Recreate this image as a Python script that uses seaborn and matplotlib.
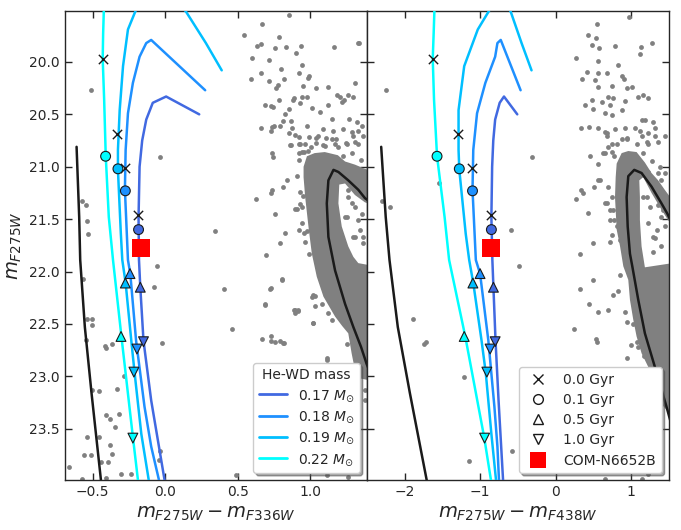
import numpy as np
import pandas as pd
import seaborn as sns
import matplotlib.pyplot as plt
from matplotlib.lines import Line2D
from matplotlib.ticker import MultipleLocator

# ---- He-WD tracks: magnitude, colour F275W-F336W, colour F275W-F438W
masses = ['0.17', '0.18', '0.19', '0.22']
track_colors = ['royalblue', 'dodgerblue', 'deepskyblue', 'aqua']

t017_mag = [20.50, 20.33, 20.39, 20.55, 20.75, 21.00, 21.48, 21.89, 22.15, 22.66, 23.23, 23.98, 24.10]
t017_c336 = [0.235, 0.007, -0.085, -0.13, -0.158, -0.176, -0.183, -0.18, -0.171, -0.149, -0.096, -0.005, 0.01]
t017_c438 = [-0.507, -0.683, -0.74, -0.80, -0.825, -0.84, -0.85, -0.837, -0.823, -0.795, -0.755, -0.696, -0.69]

t018_mag = [20.27, 19.79, 19.82, 19.95, 20.20, 20.49, 20.84, 21.22, 21.89, 22.02, 22.66, 23.29, 23.67, 23.98, 24.10]
t018_c336 = [0.276, -0.096, -0.13, -0.176, -0.222, -0.256, -0.272, -0.277, -0.256, -0.24, -0.2, -0.142, -0.096, -0.044, -0.03]
t018_c438 = [-0.463, -0.726, -0.77, -0.80, -0.93, -1.04, -1.09, -1.10, -1.056, -1.0, -0.89, -0.81, -0.77, -0.75, -0.745]

t019_mag = [20.08, 19.82, 19.52, 19.30, 19.50, 19.69, 20.04, 20.46, 20.84, 21.03, 21.64, 21.89, 22.11, 22.66, 22.97, 23.55, 23.98, 24.10]
t019_c336 = [0.39, 0.281, 0.144, 0.0, -0.2, -0.256, -0.29, -0.313, -0.325, -0.325, -0.305, -0.295, -0.272, -0.233, -0.21, -0.164, -0.114, -0.10]
t019_c438 = [-0.318, -0.45, -0.594, -0.75, -0.871, -1.03, -1.21, -1.285, -1.285, -1.275, -1.19, -1.144, -1.09, -0.98, -0.924, -0.85, -0.79, -0.78]

t022_mag = [19.40, 19.73, 19.97, 20.36, 20.90, 21.48, 21.89, 22.62, 23.58, 23.98, 24.10]
t022_c336 = [-0.42, -0.427, -0.43, -0.42, -0.409, -0.388, -0.359, -0.301, -0.222, -0.188, -0.18]
t022_c438 = [-1.60, -1.615, -1.627, -1.61, -1.57, -1.47, -1.41, -1.196, -0.946, -0.858, -0.84]

# ---- cooling ages along the tracks (order: 0.17, 0.18, 0.19, 0.22)
age_labels = ['0.0 Gyr', '0.1 Gyr', '0.5 Gyr', '1.0 Gyr']
age00_mag = [21.46, 21.01, 20.69, 19.97]
age00_c336 = [-0.185, -0.279, -0.33, -0.43]
age00_c438 = [-0.85, -1.108, -1.29, -1.627]
age01_mag = [21.60, 21.23, 21.02, 20.90]
age01_c336 = [-0.183, -0.274, -0.325, -0.41]
age01_c438 = [-0.85, -1.10, -1.275, -1.57]
age05_mag = [22.15, 22.02, 22.11, 22.62]
age05_c336 = [-0.171, -0.242, -0.274, -0.304]
age05_c438 = [-0.823, -1.0, -1.095, -1.21]
age10_mag = [22.67, 22.74, 22.96, 23.59]
age10_c336 = [-0.149, -0.194, -0.215, -0.222]
age10_c438 = [-0.80, -0.867, -0.91, -0.94]

# ---- COM-N6652B
com_mag = [21.78]
com_c336 = [-0.164]
com_c438 = [-0.854]

# ---- CO-WD cooling sequence
wd_mag = [20.81, 21.48, 21.89, 22.53, 23.16, 23.98, 24.10]
wd_c336 = [-0.61, -0.592, -0.585, -0.553, -0.507, -0.443, -0.435]
wd_c438 = [-2.31, -2.25, -2.20, -2.09, -1.93, -1.71, -1.68]

# ---- cluster isochrone
iso336_c = [1.50, 1.377, 1.331, 1.262, 1.194, 1.16, 1.125, 1.114, 1.125, 1.171, 1.24, 1.297, 1.35, 1.388, 1.45]
iso336_mag = [21.42, 21.30, 21.22, 21.13, 21.05, 21.03, 21.13, 21.35, 21.67, 21.99, 22.31, 22.53, 22.72, 22.88, 23.10]
iso438_c = [1.55, 1.483, 1.404, 1.272, 1.14, 1.043, 0.964, 0.942, 0.956, 0.986, 1.017, 1.096, 1.184, 1.316, 1.47, 1.55]
iso438_mag = [21.55, 21.45, 21.35, 21.19, 21.06, 21.03, 21.09, 21.29, 21.57, 21.83, 21.95, 22.27, 22.59, 22.91, 23.29, 23.50]

# ---- outline of the dense cluster sequence
blob336_c = [0.954, 0.977, 1.03, 1.10, 1.19, 1.24, 1.308, 1.377, 1.45, 1.45, 1.377, 1.308, 1.24, 1.20, 1.194,
             1.217, 1.262, 1.297, 1.331, 1.45, 1.45, 1.342, 1.308, 1.285, 1.262, 1.22, 1.171, 1.091, 1.045,
             1.011, 0.99, 0.965, 0.954]
blob336_mag = [21.00, 20.90, 20.87, 20.86, 20.89, 20.95, 20.98, 21.02, 21.05, 21.37, 21.34, 21.27, 21.16, 21.17,
               21.35, 21.57, 21.76, 21.86, 21.92, 21.95, 23.05, 23.02, 22.94, 22.78, 22.59, 22.52, 22.43, 22.24,
               22.05, 21.83, 21.60, 21.29, 21.10]
blob438_c = [0.81, 0.876, 0.964, 1.074, 1.14, 1.184, 1.272, 1.36, 1.447, 1.55, 1.55, 1.491, 1.404, 1.272, 1.162,
             1.11, 1.118, 1.118, 1.14, 1.184, 1.55, 1.55, 1.47, 1.36, 1.228, 1.14, 1.074, 1.03, 0.986, 0.964,
             0.898, 0.855, 0.81, 0.788, 0.797]
blob438_mag = [20.97, 20.87, 20.85, 20.86, 20.92, 20.96, 21.06, 21.13, 21.22, 21.32, 21.55, 21.51, 21.41, 21.25,
               21.10, 21.13, 21.29, 21.51, 21.76, 21.96, 21.92, 23.40, 23.32, 23.23, 22.91, 22.78, 22.62, 22.46,
               22.27, 22.08, 21.95, 21.76, 21.60, 21.29, 21.10]

# ---- individual field / cluster stars (F275W-F336W panel)
star336_c = [0.669, 0.543, 0.783, 0.635, 0.664, 0.760, 0.833, 0.936, 0.902, 1.164, 1.335, 0.600, 0.714, 0.943,
             0.801, 0.664, 0.920, 0.993, 0.984, 0.589, 0.719, 0.822, 0.778, 0.765, 0.947, 1.043, 1.125, 1.308,
             1.183, 1.205, 1.262, 1.297, 1.235, 1.221, 0.783, 0.886, 0.879, 0.943, 0.975, 0.687, 0.733, 0.744,
             0.851, 0.927, 1.011, 1.068, 1.121, 0.829, 0.810, 0.870, 1.153, 1.269, 1.319, 1.354, 0.664, 0.737,
             0.753, 0.733, 0.794, 0.874, 0.975, 1.091, 1.160, 1.228, 1.285, 1.331, 1.365, 0.856, 0.920, 0.988,
             1.039, 1.107, 1.178, 0.920, 0.867, 0.966, 1.007, 1.041, 1.103, 1.171, 1.244, 1.308, 0.737, 0.744,
             0.920, 0.943, 0.982,
             -0.514, -0.032, -0.575, -0.548, -0.537, -0.530, 0.345, 0.851, 1.331,
             0.84, 0.737, 0.733, 0.81, 0.628, 0.756, 0.824, 0.794, 0.698, 0.806, 0.726, 0.685, 0.893, 0.915,
             0.893, 1.016, 1.034, 1.03, 1.08, 0.956, 0.966, 0.993, 0.977, 0.929, 0.909, 0.947,
             0.733, 0.794, 0.81, 1.114,
             -0.569, -0.537, -0.507, -0.505, -0.546, -0.411, -0.409, -0.363, -0.057, -0.08, -0.021, -0.286,
             -0.331, -0.457, -0.507, -0.409, -0.377, -0.32, -0.343, -0.537, -0.455, -0.382, -0.56, -0.514,
             -0.439, -0.393, -0.363, -0.662, -0.576, -0.409, -0.302, -0.233, -0.032, -0.039,
             0.408, 0.486, 0.463, 0.685, 0.733, 0.806, 0.886, 0.913, 1.016, 0.669, 0.733, 0.755, 0.817, 1.011,
             1.022, 1.125, 1.148, 1.114, 1.25, 1.24, 1.212, 1.114, 1.262, 1.376, 1.376,
             0.862, 0.897, 0.931, 0.954, 0.92, 0.908, 0.931, 0.897, 0.942, 0.942, 0.92, 1.056, 1.091, 1.148,
             1.193, 1.25, 1.296, 1.33, 1.285, 1.353, 1.228, 1.353, 1.308, 1.262, 1.308, 1.25, 1.342, 1.296,
             1.365, 1.262, 1.285, 1.331, 1.308, 1.354, 1.24, 1.365]
star336_mag = [19.637, 19.742, 19.765, 19.847, 19.831, 19.870, 19.860, 19.847, 19.917, 19.860, 19.822, 19.959,
               19.981, 20.029, 20.070, 20.102, 20.108, 20.134, 20.156, 20.159, 20.178, 20.163, 20.220, 20.252,
               20.226, 20.252, 20.242, 20.204, 20.319, 20.331, 20.312, 20.331, 20.363, 20.379, 20.363, 20.347,
               20.363, 20.331, 20.338, 20.411, 20.420, 20.427, 20.452, 20.395, 20.443, 20.481, 20.411, 20.500,
               20.564, 20.564, 20.548, 20.548, 20.570, 20.611, 20.627, 20.624, 20.611, 20.662, 20.611, 20.634,
               20.611, 20.637, 20.662, 20.643, 20.669, 20.659, 20.707, 20.681, 20.720, 20.713, 20.723, 20.729,
               20.739, 20.787, 20.793, 20.787, 20.815, 20.777, 20.802, 20.783, 20.771, 20.761, 20.866, 20.911,
               20.866, 20.857, 20.850,
               20.27, 20.91, 21.33, 21.37, 21.52, 21.64, 21.61, 19.55, 19.82,
               21.13, 21.22, 21.25, 21.19, 21.31, 21.45, 21.63, 21.73, 21.84, 22.08, 22.17, 22.32, 22.37, 22.37,
               22.40, 22.49, 22.33, 22.23, 22.31, 21.63, 21.72, 21.83, 21.61, 21.36, 21.40, 21.28,
               22.62, 22.66, 22.68, 22.84,
               22.07, 22.45, 22.45, 22.51, 22.65, 22.71, 22.73, 22.69, 21.95, 22.15, 22.68, 23.00, 23.12, 23.14,
               23.13, 23.37, 23.41, 23.36, 23.48, 23.58, 23.58, 23.66, 23.75, 23.75, 23.82, 23.82, 23.74, 23.87,
               23.98, 23.97, 23.93, 23.93, 23.71, 23.80,
               22.17, 23.94, 22.55, 22.31, 22.16, 22.07, 22.37, 22.38, 22.49, 22.64, 22.66, 22.67, 22.68, 22.24,
               22.22, 22.40, 22.46, 22.83, 22.69, 23.10, 23.23, 23.94, 23.96, 23.13, 23.23,
               20.79, 20.70, 20.78, 20.86, 20.94, 21.09, 21.24, 21.40, 21.38, 21.54, 21.60, 20.71, 20.79, 20.74,
               20.81, 20.78, 20.71, 20.78, 20.87, 20.94, 20.90, 21.09, 21.19, 21.29, 21.38, 21.48, 21.60, 21.67,
               21.67, 21.22, 21.35, 21.51, 21.67, 21.45, 21.48, 21.73]

# ---- individual stars (F275W-F438W panel)
star438_c = [0.547, 0.973, 0.429, 0.534, 0.578, 0.481, 0.789, 1.131, 1.118, 1.28, 0.275, 0.56, 0.832, 0.415,
             0.569, 0.679, 0.876, 0.911, 0.35, 0.525, 0.569, 0.754, 0.942, 1.008, 0.701, 0.767, 1.096, 1.162,
             1.228, 0.481, 0.613, 0.723, 0.877, 0.92, 0.393, 0.503, 0.657, 0.745, 1.14, 1.184, 1.294, 0.34,
             0.437, 0.569, 0.657, 0.789, 0.92, 1.052, 1.118, 1.228, 1.316, 1.447, 0.679, 0.745, 0.701, 0.876,
             0.942, 1.14, 1.228, 1.36, 0.635, 0.78, 0.459, 0.569,
             -2.25, -0.309, -1.548, -2.294, -2.189, -0.595, -0.485,
             0.569, 0.516, 0.341, 0.358, 0.27, 0.429, 0.657, 0.723, 0.78, 0.745, 0.503, 0.723, 0.327, 0.855,
             1.228, 1.272, 1.206, 1.36, 1.404, 1.36, 1.404, 1.316, 1.294, 1.404,
             0.503, 0.327, 0.855, 0.833, 0.767, 0.437, 0.701, 0.56, 0.92, 0.942, 1.03, 0.24, 0.538, 0.547,
             1.074, 0.999, 1.096, 0.942, 1.175, 1.228,
             -1.882, -1.737, -1.715, -1.21, -1.152, -0.582, 0.613, 0.745, 0.657, 1.14, 1.228,
             0.679, 0.657, 0.745, 0.81, 0.942, 1.074, 1.206, 1.316, 1.162, 1.272, 1.381, 1.447, 0.591, 0.701,
             0.745, 0.679, 0.767, 0.723, 0.81, 1.162, 1.25, 1.228, 1.338, 1.425, 1.447, 1.294]
star438_mag = [19.64, 19.57, 19.74, 19.77, 19.87, 19.84, 19.85, 19.86, 19.92, 19.82, 19.96, 19.99, 20.03, 20.10,
               20.11, 20.11, 20.13, 20.16, 20.16, 20.17, 20.24, 20.23, 20.25, 20.24, 20.33, 20.34, 20.33, 20.32,
               20.34, 20.36, 20.38, 20.41, 20.46, 20.37, 20.41, 20.45, 20.49, 20.51, 20.55, 20.55, 20.57, 20.63,
               20.62, 20.63, 20.67, 20.64, 20.63, 20.63, 20.66, 20.68, 20.63, 20.71, 20.71, 20.78, 20.81, 20.74,
               20.73, 20.71, 20.78, 20.76, 20.87, 20.90, 20.90, 20.97,
               20.27, 20.91, 21.16, 21.33, 21.38, 21.60, 21.95,
               21.13, 21.19, 21.22, 21.25, 21.31, 21.44, 21.35, 21.41, 21.51, 21.65, 21.73, 21.72, 21.83, 21.70,
               21.05, 21.18, 21.29, 21.06, 21.13, 21.37, 21.48, 21.68, 21.81, 21.76,
               22.08, 22.17, 22.03, 22.19, 22.22, 22.31, 22.37, 22.39, 22.39, 22.48, 22.50, 22.55, 22.64, 22.67,
               22.67, 22.70, 22.72, 22.83, 22.81, 22.78,
               22.45, 22.69, 22.67, 23.01, 23.81, 23.71, 23.02, 23.13, 23.98, 23.98, 23.93,
               20.68, 20.87, 20.86, 20.78, 20.74, 20.78, 20.76, 20.71, 20.87, 20.95, 21.00, 21.06, 21.13, 21.19,
               21.29, 21.35, 21.41, 21.51, 21.57, 21.29, 21.38, 21.54, 21.60, 21.41, 21.57, 21.67]

# ---------------------------------------------------------------------------
tracks = pd.concat([
    pd.DataFrame({'mass': m, 'mag': mag, 'c336': c1, 'c438': c2})
    for m, mag, c1, c2 in [
        ('0.17', t017_mag, t017_c336, t017_c438),
        ('0.18', t018_mag, t018_c336, t018_c438),
        ('0.19', t019_mag, t019_c336, t019_c438),
        ('0.22', t022_mag, t022_c336, t022_c438),
    ]
], ignore_index=True)
palette = dict(zip(masses, track_colors))

sns.set_theme(style='ticks')
plt.rcParams['font.family'] = ['DejaVu Sans']
plt.rcParams['mathtext.fontset'] = 'dejavusans'

fig, axes = plt.subplots(1, 2, figsize=(6.81, 5.30), dpi=100, sharey=True)
fig.subplots_adjust(left=0.0954, right=0.982, bottom=0.0943, top=0.979, wspace=0)

panels = [
    ('c336', star336_c, star336_mag, blob336_c, blob336_mag, iso336_c, iso336_mag, wd_c336,
     [age00_c336, age01_c336, age05_c336, age10_c336], com_c336, (-0.69, 1.39),
     r'$m_{F275W} - m_{F336W}$'),
    ('c438', star438_c, star438_mag, blob438_c, blob438_mag, iso438_c, iso438_mag, wd_c438,
     [age00_c438, age01_c438, age05_c438, age10_c438], com_c438, (-2.5, 1.5),
     r'$m_{F275W} - m_{F438W}$'),
]
age_mags = [age00_mag, age01_mag, age05_mag, age10_mag]
age_markers = ['x', 'o', '^', 'v']

for ax, (col, sc, sm, bc, bm, ic, im, wc, ages, comc, xlim, xlab) in zip(axes, panels):
    # cluster stars
    ax.fill(bc, bm, color='#808080', lw=0, zorder=1)
    sns.scatterplot(x=sc, y=sm, color='#808080', s=12, linewidth=0, ax=ax, zorder=1)
    # isochrone and CO-WD cooling sequence
    sns.lineplot(x=ic, y=im, color='k', lw=1.8, sort=False, estimator=None, ax=ax, zorder=3)
    sns.lineplot(x=wc, y=wd_mag, color='k', lw=1.8, sort=False, estimator=None, ax=ax, zorder=3)
    # He-WD tracks
    sns.lineplot(data=tracks, x=col, y='mag', hue='mass', hue_order=masses, palette=palette,
                 sort=False, estimator=None, lw=1.8, legend=False, ax=ax, zorder=4)
    # ages
    for mk, xs, ys in zip(age_markers, ages, age_mags):
        if mk == 'x':
            sns.scatterplot(x=xs, y=ys, marker='x', color='k', s=45, linewidth=1.0, ax=ax, zorder=6)
        else:
            sns.scatterplot(x=xs, y=ys, hue=masses, palette=palette, marker=mk, s=50,
                            edgecolor='k', linewidth=0.8, legend=False, ax=ax, zorder=6)
    sns.scatterplot(x=comc, y=com_mag, marker='s', color='red', s=170, linewidth=0, ax=ax, zorder=7)

    ax.set_xlim(*xlim)
    ax.set_xlabel(xlab, fontsize=14)
    ax.tick_params(direction='in', top=True, right=True, length=5, width=1, labelsize=10)
    for s in ax.spines.values():
        s.set_linewidth(1.0)

axes[0].set_ylim(23.99, 19.515)
axes[0].yaxis.set_major_locator(MultipleLocator(0.5))
axes[0].yaxis.set_major_formatter(plt.FormatStrFormatter('%.1f'))
axes[0].set_ylabel(r'$m_{F275W}$', fontsize=14)
axes[1].set_ylabel('')
axes[1].tick_params(labelleft=False)

# legends
mass_handles = [Line2D([], [], color=c, lw=2) for c in track_colors]
axes[0].legend(mass_handles, [m + r' $M_{\odot}$' for m in masses], title='He-WD mass',
               loc='lower right', fontsize=10, title_fontsize=10, frameon=True, edgecolor='0.8',
               shadow=True, labelspacing=0.4)

age_handles = [Line2D([], [], marker=mk, ls='none', color='k', mfc='white', mec='k', ms=7, mew=1.0)
               for mk in age_markers]
age_handles.append(Line2D([], [], marker='s', ls='none', color='red', ms=12, mew=0))
axes[1].legend(age_handles, age_labels + ['COM-N6652B'], loc='lower right', fontsize=10,
               frameon=True, edgecolor='0.8', shadow=True, labelspacing=0.45)

fig.savefig('out.png', dpi=100)
